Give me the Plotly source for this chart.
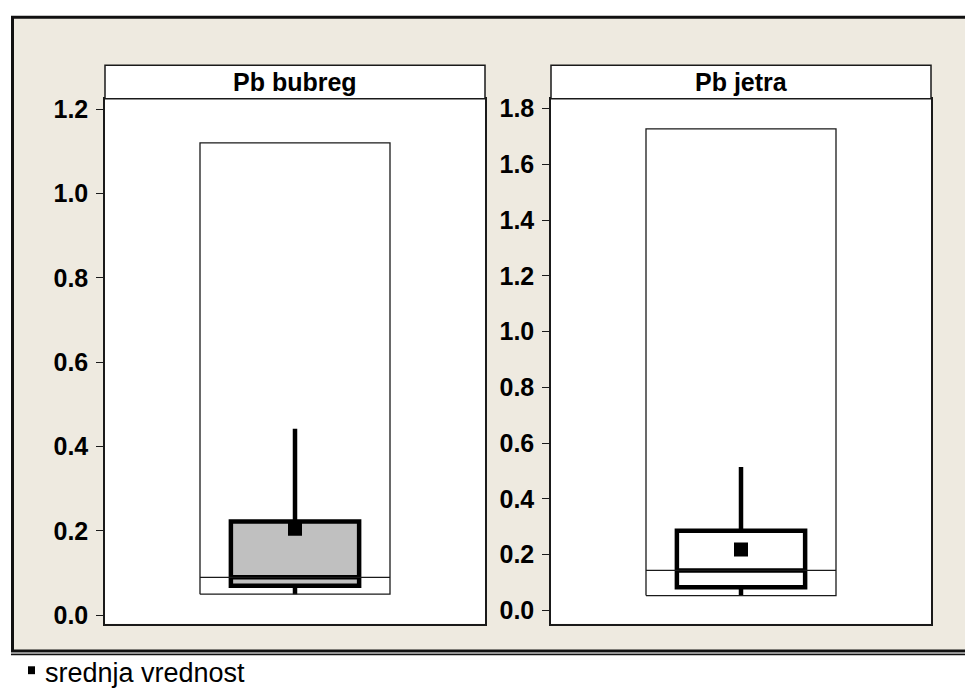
import plotly.graph_objects as go

# ---- data ----
panels = ["Pb bubreg", "Pb jetra"]
range_min = [0.05, 0.053]
range_max = [1.12, 1.727]
whisker_low = [0.05, 0.053]
q1 = [0.070, 0.083]
median = [0.090, 0.143]
q3 = [0.222, 0.285]
whisker_high = [0.442, 0.514]
mean = [0.205, 0.218]
box_fill = ["#C0C0C0", "#FFFFFF"]
tick_values = [
    [0.0, 0.2, 0.4, 0.6, 0.8, 1.0, 1.2],
    [0.0, 0.2, 0.4, 0.6, 0.8, 1.0, 1.2, 1.4, 1.6, 1.8],
]
y_ranges = [[-0.0204, 1.2247], [-0.0485, 1.835]]
legend_label = "srednja vrednost"

# ---- layout helpers ----
W, H = 965, 693
def px(x):
    return x / W
def py(y):
    return 1 - y / H

panel_x = [(105, 485), (551, 931)]
panel_top, panel_bottom = 96, 628
strip_top = 62

RECT_HALF = 0.5
BOX_WIDTH = 0.675
LINE = "#1a1a1a"

fig = go.Figure()
shapes = []
annotations = []

# beige frame
shapes.append(dict(type="rect", xref="paper", yref="paper", layer="below",
                   x0=px(12.5), x1=px(1000), y0=py(655.5), y1=py(13.5),
                   fillcolor="#EEEAE0", line=dict(color="#111111", width=3)))
shapes.append(dict(type="line", xref="paper", yref="paper", layer="below",
                   x0=px(11), x1=px(1000), y0=py(657.6), y1=py(657.6),
                   line=dict(color="#9a9a9a", width=1)))
shapes.append(dict(type="line", xref="paper", yref="paper", layer="below",
                   x0=px(11), x1=px(1000), y0=py(659), y1=py(659),
                   line=dict(color="#111111", width=1.5)))

for i, name in enumerate(panels):
    xa = "x" if i == 0 else "x2"
    ya = "y" if i == 0 else "y2"
    x0, x1 = panel_x[i]
    # white panel background
    shapes.append(dict(type="rect", xref="paper", yref="paper", layer="below",
                       x0=px(x0), x1=px(x1), y0=py(panel_bottom), y1=py(panel_top),
                       fillcolor="white", line=dict(width=0)))
    # strip header
    shapes.append(dict(type="rect", xref="paper", yref="paper", layer="above",
                       x0=px(x0), x1=px(x1), y0=py(panel_top), y1=py(strip_top),
                       fillcolor="white", line=dict(color=LINE, width=1.5)))
    annotations.append(dict(text=name, xref="paper", yref="paper",
                            x=(px(x0) + px(x1)) / 2, y=(py(panel_top) + py(strip_top)) / 2,
                            xanchor="center", yanchor="middle", showarrow=False,
                            font=dict(family="Liberation Sans", size=25, color="black",
                                      weight="bold")))

    # thin range rectangle
    fig.add_trace(go.Scatter(
        x=[-RECT_HALF, RECT_HALF, RECT_HALF, -RECT_HALF, -RECT_HALF],
        y=[range_min[i], range_min[i], range_max[i], range_max[i], range_min[i]],
        mode="lines", line=dict(color=LINE, width=1.3),
        xaxis=xa, yaxis=ya, showlegend=False, hoverinfo="skip"))
    # thin median line across
    fig.add_trace(go.Scatter(
        x=[-RECT_HALF, RECT_HALF], y=[median[i], median[i]],
        mode="lines", line=dict(color=LINE, width=1.3),
        xaxis=xa, yaxis=ya, showlegend=False, hoverinfo="skip"))
    # box
    fig.add_trace(go.Box(
        x=[0], q1=[q1[i]], median=[median[i]], q3=[q3[i]],
        lowerfence=[whisker_low[i]], upperfence=[whisker_high[i]],
        width=BOX_WIDTH, whiskerwidth=0, boxpoints=False,
        fillcolor=box_fill[i], line=dict(color="black", width=4.5),
        xaxis=xa, yaxis=ya, showlegend=False, name=name))
    # mean marker
    fig.add_trace(go.Scatter(
        x=[0], y=[mean[i]], mode="markers",
        marker=dict(symbol="square", size=14, color="black"),
        xaxis=xa, yaxis=ya, showlegend=False, name=legend_label))

# legend (bottom)
shapes.append(dict(type="rect", xref="paper", yref="paper", layer="above",
                   x0=px(28), x1=px(35), y0=py(679), y1=py(671),
                   fillcolor="black", line=dict(width=0)))
annotations.append(dict(text=legend_label, xref="paper", yref="paper",
                        x=px(43), y=py(678), xanchor="left", yanchor="middle",
                        showarrow=False,
                        font=dict(family="Liberation Sans", size=27, color="black")))

axis_common = dict(showline=True, mirror=True, linecolor=LINE, linewidth=1.5,
                   showgrid=False, zeroline=False)
tick_font = dict(family="Liberation Sans", size=25, color="black", weight="bold")

fig.update_layout(
    width=W, height=H,
    margin=dict(l=0, r=0, t=0, b=0),
    paper_bgcolor="white", plot_bgcolor="rgba(0,0,0,0)",
    showlegend=False,
    shapes=shapes, annotations=annotations,
    xaxis=dict(domain=[px(105), px(485)], range=[-1, 1], showticklabels=False,
               ticks="", anchor="y", **axis_common),
    yaxis=dict(domain=[py(628), py(96)], range=y_ranges[0], anchor="x",
               tickvals=tick_values[0], tickformat=".1f", ticks="outside",
               ticklen=7, tickwidth=1.3, tickcolor=LINE, tickfont=tick_font,
               ticklabelstandoff=3, **axis_common),
    xaxis2=dict(domain=[px(551), px(931)], range=[-1, 1], showticklabels=False,
                ticks="", anchor="y2", **axis_common),
    yaxis2=dict(domain=[py(628), py(96)], range=y_ranges[1], anchor="x2",
                tickvals=tick_values[1], tickformat=".1f", ticks="outside",
                ticklen=7, tickwidth=1.3, tickcolor=LINE, tickfont=tick_font,
                ticklabelstandoff=3, **axis_common),
)

fig.write_html("out.html")
